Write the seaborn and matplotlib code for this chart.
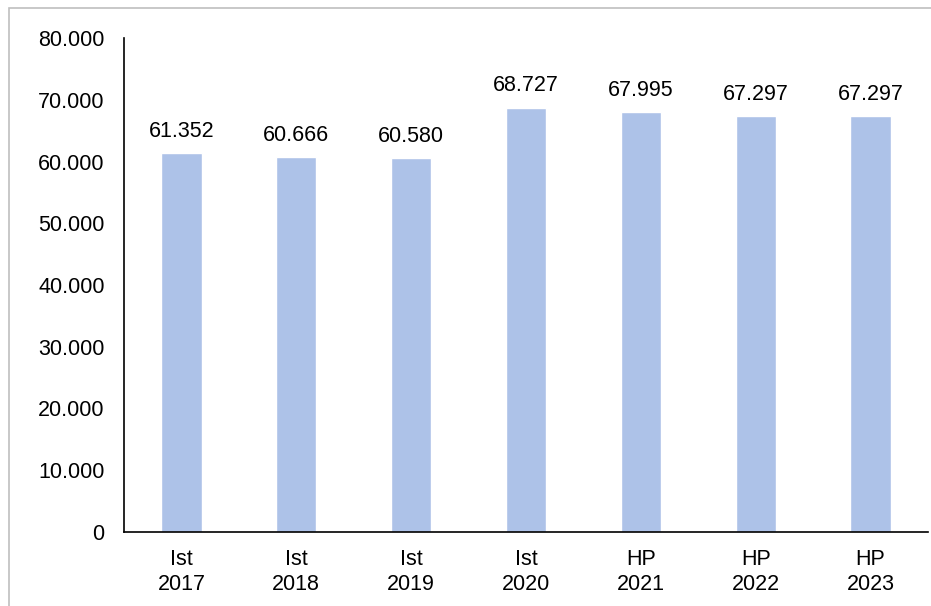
import matplotlib
matplotlib.use("Agg")
import matplotlib.pyplot as plt
import seaborn as sns
import pandas as pd
from matplotlib.ticker import FuncFormatter
from matplotlib.patches import Rectangle

categories = ["Ist\n2017", "Ist\n2018", "Ist\n2019", "Ist\n2020", "HP\n2021", "HP\n2022", "HP\n2023"]
values = [61352, 60666, 60580, 68727, 67995, 67297, 67297]
yticks = [0, 10000, 20000, 30000, 40000, 50000, 60000, 70000, 80000]

sns.set_theme(style="white")
plt.rcParams["font.family"] = ["Liberation Sans", "DejaVu Sans"]

df = pd.DataFrame({"cat": categories, "val": values})

fig = plt.figure(figsize=(9.31, 6.06), dpi=100)
ax = fig.add_axes([124/931, 1-532/606, (928-124)/931, (532-38)/606])

sns.barplot(data=df, x="cat", y="val", color="#adc2e8", width=0.35, ax=ax, saturation=1)

def fmt(v):
    if v == 0:
        return "0"
    return f"{int(round(v)):,}".replace(",", ".")

ax.set_ylim(0, 80000)
ax.set_yticks(yticks)
ax.yaxis.set_major_formatter(FuncFormatter(lambda v, p: fmt(v)))
ax.set_xlim(-0.5, 6.5)
ax.set_xlabel("")
ax.set_ylabel("")
ax.tick_params(axis="both", length=0, labelsize=15.5, colors="black")
ax.tick_params(axis="y", pad=14)
ax.tick_params(axis="x", pad=12)
for lbl in ax.get_xticklabels():
    lbl.set_linespacing(1.25)

for s in ["top", "right"]:
    ax.spines[s].set_visible(False)
for s in ["left", "bottom"]:
    ax.spines[s].set_color("black")
    ax.spines[s].set_linewidth(1.2)

for c in ax.containers:
    ax.bar_label(c, labels=[fmt(v) for v in values], padding=8, fontsize=15.5, color="black")

fig.patches.append(Rectangle((9/931, -0.1), 1.2, (1-8/606)+0.1, transform=fig.transFigure,
                             fill=False, edgecolor="#bfbfbf", linewidth=1.2))

fig.savefig("out.png", dpi=100)
